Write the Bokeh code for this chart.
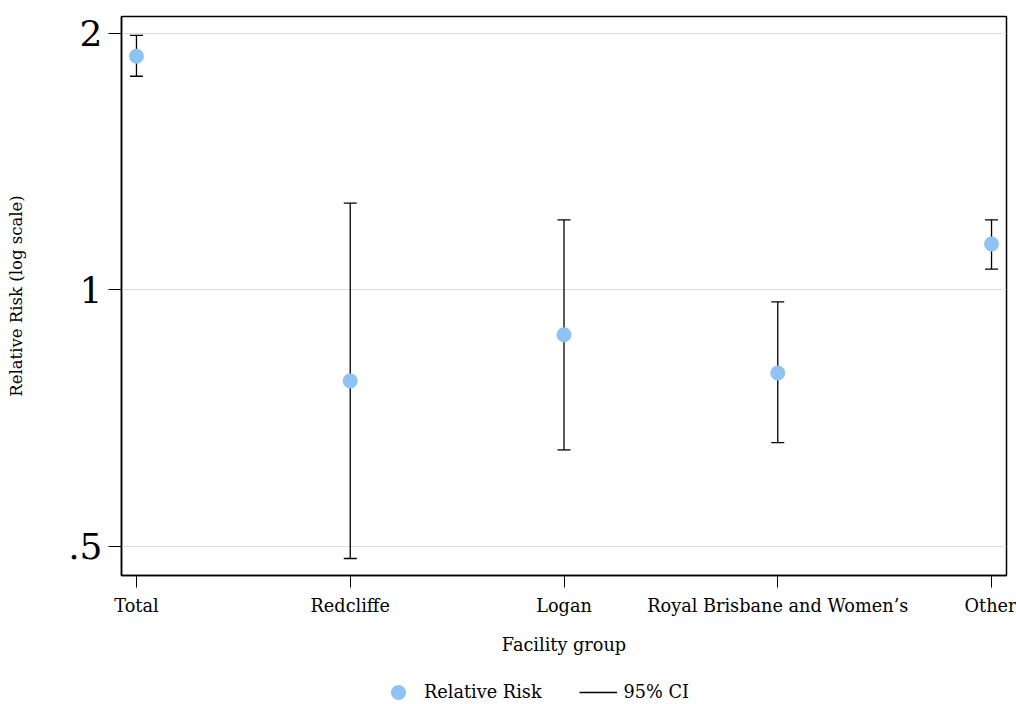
from bokeh.plotting import figure
from bokeh.layouts import column
from bokeh.models import (ColumnDataSource, Range1d, FixedTicker, Whisker, TeeHead,
                          Legend, LegendItem)
from bokeh.embed import file_html
from bokeh.resources import INLINE

# ---- data ----
categories = ["Total", "Redcliffe", "Logan", "Royal Brisbane and Women\u2019s", "Other"]
relative_risk = [1.88, 0.782, 0.886, 0.799, 1.132]
ci_lower = [1.781, 0.484, 0.649, 0.662, 1.058]
ci_upper = [1.989, 1.264, 1.208, 0.968, 1.208]
y_tick_values = [0.5, 1, 2]
y_tick_labels = [".5", "1", "2"]

x_pos = list(range(len(categories)))
src = ColumnDataSource(dict(x=x_pos, rr=relative_risk, lo=ci_lower, hi=ci_upper))

FONT = "DejaVu Serif"
POINT_COLOR = "#90c3f5"
LBL = "17.7px"

p = figure(width=1016, height=672, output_backend="svg", toolbar_location=None,
           y_axis_type="log",
           x_range=Range1d(-0.07, len(categories) - 1 + 0.07),
           y_range=Range1d(0.4623, 2.093),
           min_border_left=121, min_border_right=10, min_border_top=16, min_border_bottom=97)

p.background_fill_color = "white"
p.border_fill_color = "white"
p.outline_line_color = "black"
p.outline_line_width = 1.5

# grid
p.xgrid.visible = False
p.ygrid.grid_line_color = "#dedede"
p.ygrid.grid_line_width = 1

# y axis
p.yaxis.ticker = FixedTicker(ticks=y_tick_values)
p.yaxis.major_label_overrides = {v: l for v, l in zip(y_tick_values, y_tick_labels)}
p.yaxis.minor_tick_line_color = None
p.yaxis.major_tick_out = 13
p.yaxis.major_tick_in = 0
p.yaxis.major_label_standoff = 6
p.yaxis.major_label_text_font = FONT
p.yaxis.major_label_text_font_size = "36px"
p.yaxis.major_label_text_color = "black"
p.yaxis.axis_label = "Relative Risk (log scale)"
p.yaxis.axis_label_text_font = FONT
p.yaxis.axis_label_text_font_size = "16.5px"
p.yaxis.axis_label_text_font_style = "normal"
p.yaxis.axis_label_text_color = "black"
p.yaxis.axis_label_standoff = 39
p.yaxis.axis_line_color = "black"
p.yaxis.axis_line_width = 1.5

# x axis
p.xaxis.ticker = FixedTicker(ticks=x_pos)
p.xaxis.major_label_overrides = {i: c for i, c in zip(x_pos, categories)}
p.xaxis.minor_tick_line_color = None
p.xaxis.major_tick_out = 12
p.xaxis.major_tick_in = 0
p.xaxis.major_label_standoff = 8
p.xaxis.major_label_text_font = FONT
p.xaxis.major_label_text_font_size = LBL
p.xaxis.major_label_text_color = "black"
p.xaxis.axis_label = "Facility group"
p.xaxis.axis_label_text_font = FONT
p.xaxis.axis_label_text_font_size = LBL
p.xaxis.axis_label_text_font_style = "normal"
p.xaxis.axis_label_text_color = "black"
p.xaxis.axis_label_standoff = 16
p.xaxis.axis_line_color = "black"
p.xaxis.axis_line_width = 1.5

# CI lines
p.segment(x0="x", y0="lo", x1="x", y1="hi", source=src,
          line_color="black", line_width=1.3)
w = Whisker(base="x", lower="lo", upper="hi", source=src, line_alpha=0,
            upper_head=TeeHead(size=13, line_color="black", line_width=1.3),
            lower_head=TeeHead(size=13, line_color="black", line_width=1.3))
p.add_layout(w)

# points
p.scatter(x="x", y="rr", source=src, size=15, fill_color=POINT_COLOR,
          line_color=None, marker="circle")

# ---- legend strip below the plot (its own view lies away from the data) ----
lg = figure(width=1016, height=32, output_backend="svg", toolbar_location=None,
            x_axis_location=None, y_axis_location=None,
            x_range=Range1d(100, 101), y_range=Range1d(100, 101),
            min_border=0)
lg.outline_line_color = None
lg.grid.visible = False
lg.background_fill_color = "white"
lg.border_fill_color = "white"
l_pt = lg.scatter(x="x", y="rr", source=src, size=15, fill_color=POINT_COLOR,
                  line_color=None, marker="circle")
l_ci = lg.segment(x0="x", y0="lo", x1="x", y1="hi", source=src,
                  line_color="black", line_width=1.3)
legend = Legend(items=[LegendItem(label="Relative Risk", renderers=[l_pt]),
                       LegendItem(label="95% CI", renderers=[l_ci])],
                orientation="horizontal", location=(258, -7),
                border_line_color=None, background_fill_alpha=0,
                padding=0, margin=0, spacing=37, glyph_width=38, glyph_height=38,
                label_standoff=7, label_text_font=FONT, label_text_font_size=LBL,
                label_text_color="black", label_height=20)
lg.add_layout(legend)

layout = column(p, lg, spacing=0)
open("out.html", "w").write(file_html(layout, INLINE))
